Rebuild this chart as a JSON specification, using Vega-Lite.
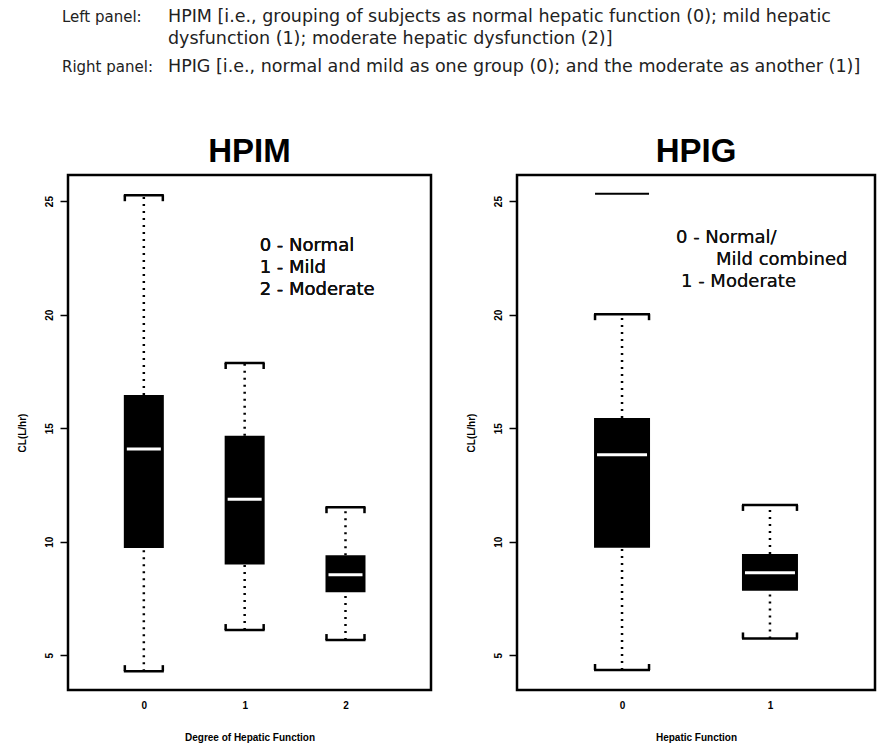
{
  "$schema": "https://vega.github.io/schema/vega-lite/v6.json",
  "background": "white",
  "padding": {"left": 15, "top": 8, "right": 0, "bottom": 0},
  "bounds": "flush",
  "spacing": 67,
  "config": {
    "font": "Liberation Sans",
    "axis": {"labelFont": "Liberation Sans", "titleFont": "Liberation Sans", "labelFontWeight": "bold", "titleFontWeight": "bold", "labelFontSize": 10, "titleFontSize": 10, "labelColor": "#000", "titleColor": "#000", "tickColor": "#000", "tickWidth": 1.5, "domain": false, "grid": false},
    "axisY": {"labelAngle": 270, "labelAlign": "center", "labelBaseline": "bottom", "tickSize": 8, "labelPadding": 6, "titlePadding": 17},
    "axisX": {"ticks": false, "labelAngle": 0, "labelPadding": 10, "titlePadding": 22},
    "title": {"font": "Liberation Sans", "fontSize": 33, "fontWeight": "bold", "color": "#000", "offset": 6}
  },
  "vconcat": [
    {
      "width": 810,
      "height": 100,
      "view": {"stroke": null},
      "data": {"values": [
        {"panel": "Left", "part": "label", "text": "Left panel:"},
        {"panel": "Left", "part": "desc", "text": "HPIM  [i.e., grouping of subjects as normal hepatic function (0); mild hepatic\ndysfunction (1); moderate hepatic dysfunction (2)]"},
        {"panel": "Right", "part": "label", "text": "Right panel:"},
        {"panel": "Right", "part": "desc", "text": "HPIG  [i.e., normal and mild as one group (0); and the moderate as another (1)]"}
      ]},
      "encoding": {
        "x": {"field": "part", "type": "nominal", "scale": {"type": "point", "padding": 0, "domain": ["label", "desc"], "range": [-6, 100]}, "axis": null},
        "y": {"field": "panel", "type": "nominal", "scale": {"type": "point", "padding": 0, "domain": ["Left", "Right"], "range": [0, 50]}, "axis": null},
        "text": {"field": "text"}
      },
      "layer": [
        {"transform": [{"filter": "datum.part === 'label'"}],
         "mark": {"type": "text", "align": "left", "baseline": "top", "dy": 1.5, "fontSize": 15, "color": "#222", "font": "DejaVu Sans"}},
        {"transform": [{"filter": "datum.part === 'desc'"}],
         "mark": {"type": "text", "align": "left", "baseline": "top", "fontSize": 17.5, "lineHeight": 22, "lineBreak": "\n", "color": "#222", "font": "DejaVu Sans"}}
      ]
    },
    {
      "bounds": "flush",
      "spacing": 86,
      "hconcat": [
        {
          "width": 363,
          "height": 515,
          "title": "HPIM",
          "view": {"stroke": "#000", "strokeWidth": 2.5},
          "data": {"values": [
            {"grp": "0", "lo": 4.30, "q1": 9.72, "med": 14.08, "q3": 16.46, "hi": 25.26},
            {"grp": "1", "lo": 6.11, "q1": 9.00, "med": 11.87, "q3": 14.67, "hi": 17.87},
            {"grp": "2", "lo": 5.67, "q1": 7.77, "med": 8.55, "q3": 9.40, "hi": 11.52}
          ]},
          "encoding": {
            "x": {"field": "grp", "type": "nominal", "scale": {"type": "point", "padding": 0.8, "align": 0.47}, "axis": {"title": "Degree of Hepatic Function"}}
          },
          "layer": [
            {"mark": {"type": "rule", "color": "#000", "strokeWidth": 2.5, "strokeDash": [2, 5]},
             "encoding": {"y": {"field": "q3", "type": "quantitative", "title": "CL(L/hr)", "scale": {"domain": [3.47, 26.15], "nice": false, "zero": false}, "axis": {"values": [5, 10, 15, 20, 25]}}, "y2": {"field": "hi"}}},
            {"mark": {"type": "rule", "color": "#000", "strokeWidth": 2.5, "strokeDash": [2, 5]},
             "encoding": {"y": {"field": "lo", "type": "quantitative", "title": "CL(L/hr)"}, "y2": {"field": "q1"}}},
            {"mark": {"type": "bar", "color": "#000", "size": 40},
             "encoding": {"y": {"field": "q1", "type": "quantitative", "title": "CL(L/hr)"}, "y2": {"field": "q3"}}},
            {"mark": {"type": "tick", "color": "#fff", "size": 34, "thickness": 3, "opacity": 1},
             "encoding": {"y": {"field": "med", "type": "quantitative", "title": "CL(L/hr)"}}},
            {"mark": {"type": "tick", "color": "#000", "size": 40, "thickness": 2.5, "opacity": 1},
             "encoding": {"y": {"field": "hi", "type": "quantitative", "title": "CL(L/hr)"}}},
            {"mark": {"type": "tick", "color": "#000", "size": 40, "thickness": 2.5, "opacity": 1},
             "encoding": {"y": {"field": "lo", "type": "quantitative", "title": "CL(L/hr)"}}},
            {"mark": {"type": "rule", "color": "#000", "strokeWidth": 2.5, "xOffset": -19, "y2Offset": 6},
             "encoding": {"y": {"field": "hi", "type": "quantitative", "title": "CL(L/hr)"}, "y2": {"field": "hi"}}},
            {"mark": {"type": "rule", "color": "#000", "strokeWidth": 2.5, "xOffset": 19, "y2Offset": 6},
             "encoding": {"y": {"field": "hi", "type": "quantitative", "title": "CL(L/hr)"}, "y2": {"field": "hi"}}},
            {"mark": {"type": "rule", "color": "#000", "strokeWidth": 2.5, "xOffset": -19, "y2Offset": -6},
             "encoding": {"y": {"field": "lo", "type": "quantitative", "title": "CL(L/hr)"}, "y2": {"field": "lo"}}},
            {"mark": {"type": "rule", "color": "#000", "strokeWidth": 2.5, "xOffset": 19, "y2Offset": -6},
             "encoding": {"y": {"field": "lo", "type": "quantitative", "title": "CL(L/hr)"}, "y2": {"field": "lo"}}},
            {"mark": {"type": "text", "align": "left", "baseline": "top", "dx": 15, "fontSize": 18, "lineHeight": 22, "lineBreak": "\n", "color": "#111", "font": "DejaVu Sans"},
             "encoding": {"x": {"datum": "1"}, "y": {"datum": 23.42}, "text": {"value": "0 - Normal\n1 -  Mild\n2 - Moderate"}}}
          ]
        },
        {
          "width": 358,
          "height": 515,
          "title": "HPIG",
          "view": {"stroke": "#000", "strokeWidth": 2.5},
          "data": {"values": [
            {"grp": "0", "lo": 4.35, "q1": 9.74, "med": 13.83, "q3": 15.45, "hi": 20.02, "out": 25.32},
            {"grp": "1", "lo": 5.74, "q1": 7.84, "med": 8.63, "q3": 9.46, "hi": 11.62, "out": null}
          ]},
          "encoding": {
            "x": {"field": "grp", "type": "nominal", "scale": {"type": "point", "padding": 0.71, "align": 0.5}, "axis": {"title": "Hepatic Function"}}
          },
          "layer": [
            {"mark": {"type": "rule", "color": "#000", "strokeWidth": 2.5, "strokeDash": [2, 5]},
             "encoding": {"y": {"field": "q3", "type": "quantitative", "title": "CL(L/hr)", "scale": {"domain": [3.47, 26.15], "nice": false, "zero": false}, "axis": {"values": [5, 10, 15, 20, 25]}}, "y2": {"field": "hi"}}},
            {"mark": {"type": "rule", "color": "#000", "strokeWidth": 2.5, "strokeDash": [2, 5]},
             "encoding": {"y": {"field": "lo", "type": "quantitative", "title": "CL(L/hr)"}, "y2": {"field": "q1"}}},
            {"mark": {"type": "bar", "color": "#000", "size": 56},
             "encoding": {"y": {"field": "q1", "type": "quantitative", "title": "CL(L/hr)"}, "y2": {"field": "q3"}}},
            {"mark": {"type": "tick", "color": "#fff", "size": 50, "thickness": 3, "opacity": 1},
             "encoding": {"y": {"field": "med", "type": "quantitative", "title": "CL(L/hr)"}}},
            {"mark": {"type": "tick", "color": "#000", "size": 56, "thickness": 2.5, "opacity": 1},
             "encoding": {"y": {"field": "hi", "type": "quantitative", "title": "CL(L/hr)"}}},
            {"mark": {"type": "tick", "color": "#000", "size": 56, "thickness": 2.5, "opacity": 1},
             "encoding": {"y": {"field": "lo", "type": "quantitative", "title": "CL(L/hr)"}}},
            {"mark": {"type": "tick", "color": "#000", "size": 54, "thickness": 2, "opacity": 1},
             "encoding": {"y": {"field": "out", "type": "quantitative", "title": "CL(L/hr)"}}},
            {"mark": {"type": "rule", "color": "#000", "strokeWidth": 2.5, "xOffset": -27, "y2Offset": 6},
             "encoding": {"y": {"field": "hi", "type": "quantitative", "title": "CL(L/hr)"}, "y2": {"field": "hi"}}},
            {"mark": {"type": "rule", "color": "#000", "strokeWidth": 2.5, "xOffset": 27, "y2Offset": 6},
             "encoding": {"y": {"field": "hi", "type": "quantitative", "title": "CL(L/hr)"}, "y2": {"field": "hi"}}},
            {"mark": {"type": "rule", "color": "#000", "strokeWidth": 2.5, "xOffset": -27, "y2Offset": -6},
             "encoding": {"y": {"field": "lo", "type": "quantitative", "title": "CL(L/hr)"}, "y2": {"field": "lo"}}},
            {"mark": {"type": "rule", "color": "#000", "strokeWidth": 2.5, "xOffset": 27, "y2Offset": -6},
             "encoding": {"y": {"field": "lo", "type": "quantitative", "title": "CL(L/hr)"}, "y2": {"field": "lo"}}},
            {"mark": {"type": "text", "align": "left", "baseline": "top", "dx": -94, "fontSize": 18, "color": "#111", "font": "DejaVu Sans"},
             "encoding": {"x": {"datum": "1"}, "y": {"datum": 23.75}, "text": {"value": "0 - Normal/"}}},
            {"mark": {"type": "text", "align": "left", "baseline": "top", "dx": -54, "fontSize": 18, "color": "#111", "font": "DejaVu Sans"},
             "encoding": {"x": {"datum": "1"}, "y": {"datum": 22.8}, "text": {"value": "Mild combined"}}},
            {"mark": {"type": "text", "align": "left", "baseline": "top", "dx": -89, "fontSize": 18, "color": "#111", "font": "DejaVu Sans"},
             "encoding": {"x": {"datum": "1"}, "y": {"datum": 21.85}, "text": {"value": "1 - Moderate"}}}
          ]
        }
      ]
    }
  ]
}
